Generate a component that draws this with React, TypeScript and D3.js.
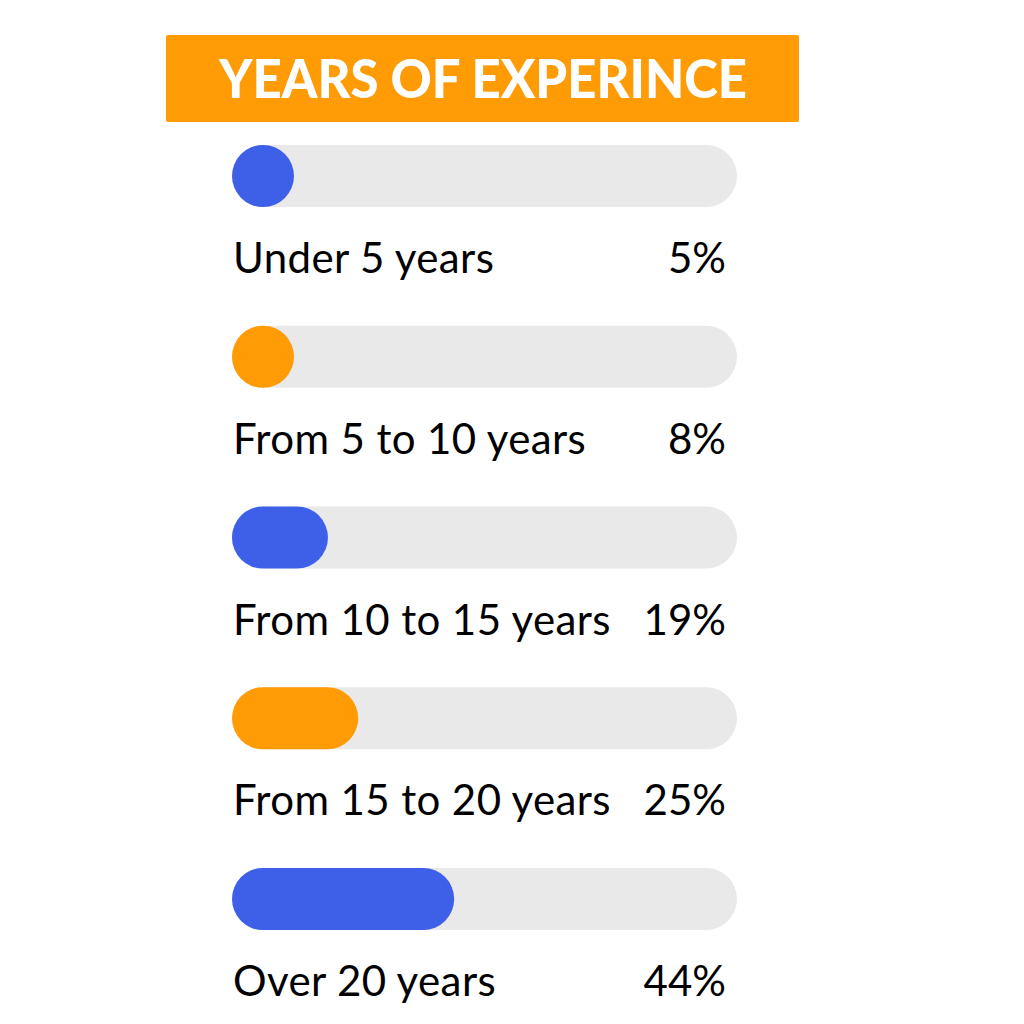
import React from "react";
import * as d3 from "d3";

const title = "YEARS OF EXPERINCE";
const categories = ["Under 5 years", "From 5 to 10 years", "From 10 to 15 years", "From 15 to 20 years", "Over 20 years"];
const values = [5, 8, 19, 25, 44];
const valueLabels = ["5%", "8%", "19%", "25%", "44%"];
const barColors = ["#3e5fe8", "#ff9b05", "#3e5fe8", "#ff9b05", "#3e5fe8"];

const W = 1024;
const H = 1024;
const trackX = 232;
const trackW = 505;
const barH = 62;

export default function App() {
  const x = d3.scaleLinear().domain([0, 100]).range([0, trackW]);
  const y = d3.scalePoint<string>().domain(categories).range([145, 868]);
  return (
    <svg width={W} height={H} style={{ position: "absolute", left: 0, top: 0, background: "#fff" }}>
      <rect x={166} y={35} width={633} height={87} rx={2} fill="#ff9b05" />
      <text x={483} y={98} textAnchor="middle" fill="#fff" fontFamily="Lato" fontWeight={900}
        fontSize={53} textLength={528} lengthAdjust="spacingAndGlyphs">{title}</text>
      {categories.map((c, i) => {
        const top = y(c)!;
        const w = Math.max(barH, x(values[i]));
        return (
          <g key={c}>
            <rect x={trackX} y={top} width={trackW} height={barH} rx={barH / 2} fill="#e9e9e9" />
            <rect x={trackX} y={top} width={w} height={barH} rx={barH / 2} fill={barColors[i]} />
            <text x={trackX + 1} y={top + 128} fontFamily="Lato" fontSize={42} letterSpacing={0.4} fill="#000">{c}</text>
            <text x={726} y={top + 128} textAnchor="end" fontFamily="Lato" fontSize={42} fill="#000">{valueLabels[i]}</text>
          </g>
        );
      })}
    </svg>
  );
}
